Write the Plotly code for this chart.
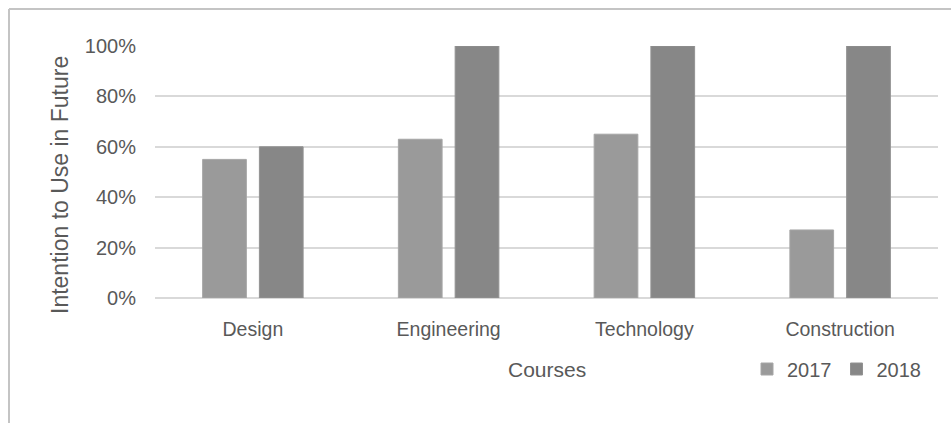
import plotly.graph_objects as go

categories = ["Design", "Engineering", "Technology", "Construction"]
y2017 = [0.55, 0.63, 0.65, 0.27]
y2018 = [0.60, 1.00, 1.00, 1.00]
tick_vals = [0, 0.2, 0.4, 0.6, 0.8, 1.0]
tick_text = ["0%", "20%", "40%", "60%", "80%", "100%"]

W, H = 951, 423
L, R, T, B = 155, 13, 46, 125
pw, ph = W - L - R, H - T - B

FONT = "Liberation Sans"
TXT = "#595959"

fig = go.Figure()
fig.add_trace(go.Bar(name="2017", x=categories, y=y2017,
                     marker=dict(color="#9a9a9a", line=dict(color="#a6a6a6", width=1))))
fig.add_trace(go.Bar(name="2018", x=categories, y=y2018,
                     marker=dict(color="#878787", line=dict(color="#929292", width=1))))

def px_x(x):
    return (x - L) / pw
def px_y(y):
    return (H - B - y) / ph

fig.update_layout(
    width=W, height=H,
    margin=dict(l=L, r=R, t=T, b=B),
    paper_bgcolor="white", plot_bgcolor="white",
    barmode="group", bargap=0.42, bargroupgap=0.23,
    font=dict(family=FONT, size=20, color=TXT),
    showlegend=True,
    legend=dict(orientation="h", x=px_x(747), y=px_y(369), xanchor="left", yanchor="middle",
                font=dict(size=20, color=TXT), itemwidth=30, bgcolor="rgba(0,0,0,0)"),
    xaxis=dict(showgrid=False, showline=False, ticks="", tickfont=dict(size=19.5, color=TXT),
               ticklabelstandoff=17),
    yaxis=dict(range=[0, 1], tickvals=tick_vals, ticktext=tick_text, showgrid=True,
               gridcolor="#d9d9d9", gridwidth=2, zeroline=True, zerolinecolor="#d9d9d9", zerolinewidth=2,
               showline=False, ticks="", tickfont=dict(size=20, color=TXT), ticklabelstandoff=18),
    annotations=[
        dict(text="Intention to Use in Future", textangle=-90, xref="paper", yref="paper",
             x=px_x(60), y=px_y(185), xanchor="center", yanchor="middle", showarrow=False,
             font=dict(size=23, color=TXT)),
        dict(text="Courses", xref="paper", yref="paper",
             x=px_x(547), y=px_y(369), xanchor="center", yanchor="middle", showarrow=False,
             font=dict(size=21, color=TXT)),
    ],
    shapes=[
        dict(type="line", xref="paper", yref="paper", x0=px_x(9), x1=px_x(951), y0=px_y(9), y1=px_y(9),
             line=dict(color="#c4c4c4", width=2)),
        dict(type="line", xref="paper", yref="paper", x0=px_x(9), x1=px_x(9), y0=px_y(9), y1=px_y(423),
             line=dict(color="#c4c4c4", width=2)),
    ],
)

fig.write_html("out.html")
